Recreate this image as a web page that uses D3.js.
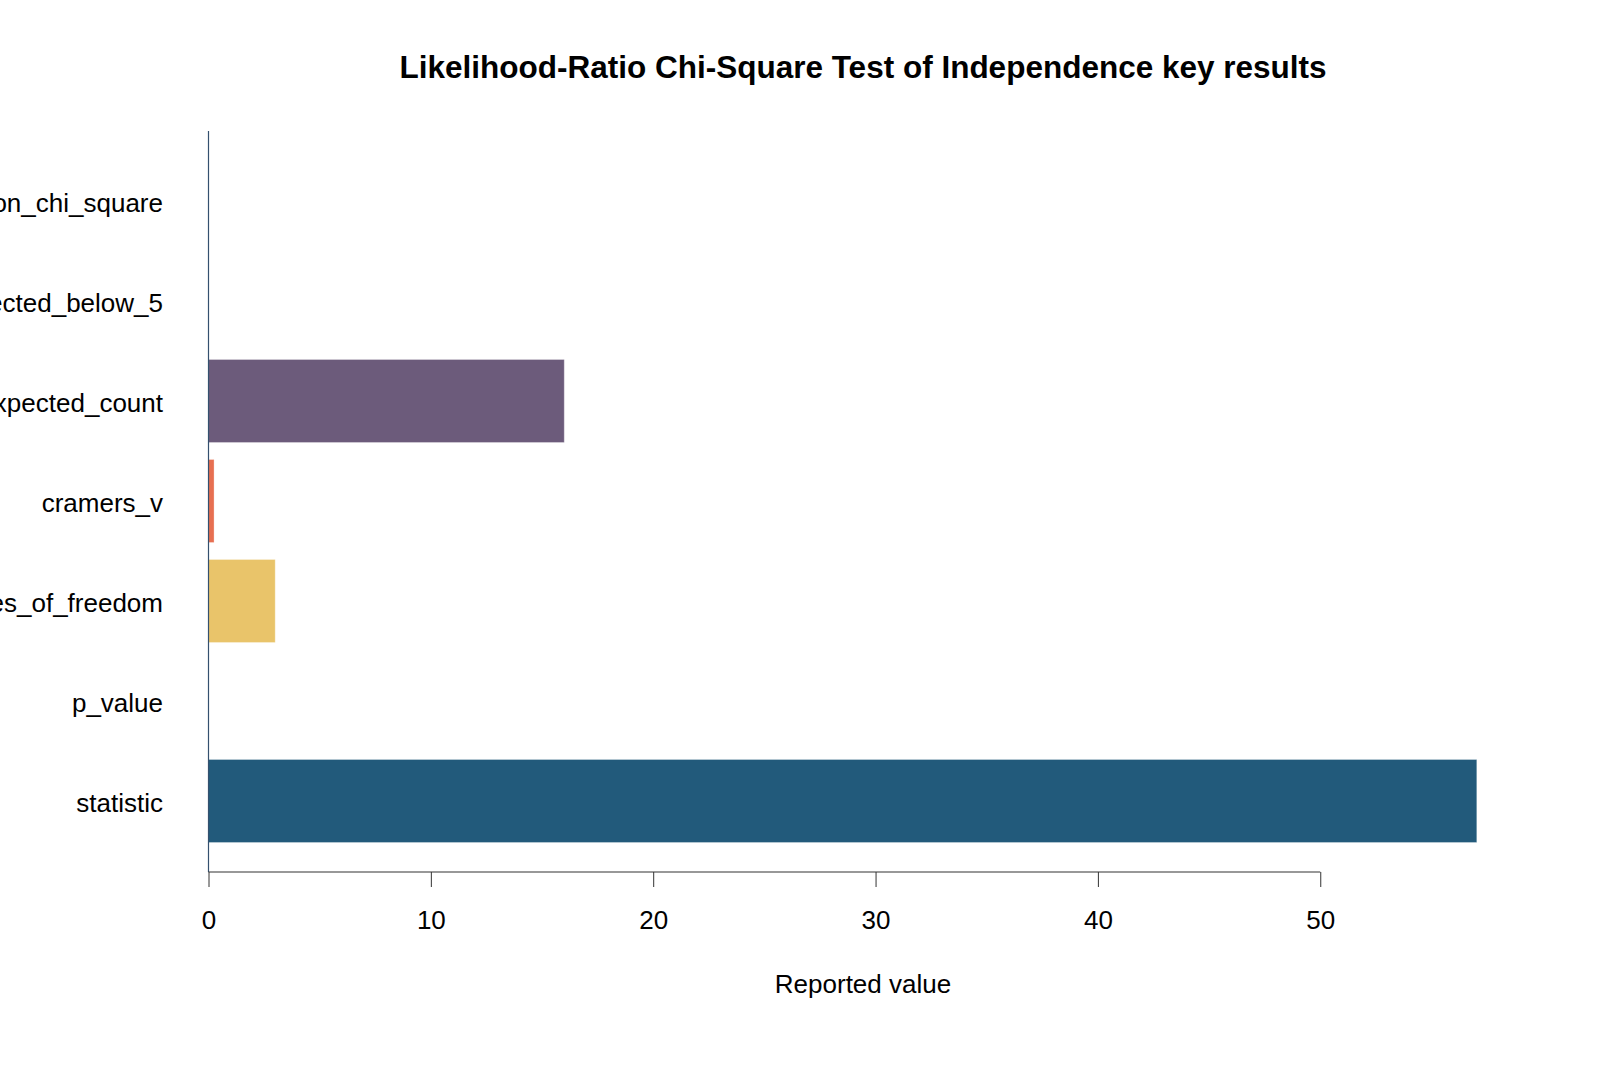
<!DOCTYPE html>
<html>
<head>
<meta charset="utf-8">
<script src="https://cdn.jsdelivr.net/npm/d3@7"></script>
<style>
  body { margin: 0; background: #fff; }
  svg text { font-family: "Liberation Sans", Arial, sans-serif; fill: #000; }
</style>
</head>
<body>
<svg id="chart" width="1600" height="1067"></svg>
<script>
// Chart data (bottom to top in the picture)
const metrics = ["statistic", "p_value", "degrees_of_freedom", "cramers_v",
  "min_expected_count", "cells_expected_below_5", "pearson_chi_square"];
const values = [57.04, 0.0000001, 3, 0.25, 16.0, 0, 0];
const barColors = ["#225a7b", "#2a9d8f", "#e9c46a", "#e76f51", "#6c5b7b", "#c06c84", "#355c7d"];
const xTicks = [0, 10, 20, 30, 40, 50];

const svg = d3.select("#chart");
const margin = { top: 131, left: 208.5, bottom: 872 };

// scales
const x = d3.scaleLinear().domain([0, 60]).range([margin.left, margin.left + 60 * 22.235]);
const y = d3.scaleBand()
  .domain(metrics.slice().reverse())
  .range([151, 851])
  .paddingInner(0.17)
  .paddingOuter(0.085);

// Title
svg.append("text")
  .attr("x", 863).attr("y", 78)
  .attr("text-anchor", "middle")
  .attr("font-size", "31.5px")
  .attr("font-weight", "bold")
  .text("Likelihood-Ratio Chi-Square Test of Independence key results");

// Bars
svg.append("g").selectAll("rect")
  .data(metrics)
  .join("rect")
  .attr("x", x(0))
  .attr("y", d => y(d))
  .attr("width", (d, i) => x(values[i]) - x(0))
  .attr("height", y.bandwidth())
  .attr("fill", (d, i) => barColors[i])
  .attr("stroke", "#fff")
  .attr("stroke-opacity", 0.3)
  .attr("stroke-width", 1);

// Category labels (left ones are cut by the page edge, as in the original)
svg.append("g").selectAll("text")
  .data(metrics)
  .join("text")
  .attr("x", 163)
  .attr("y", d => y(d) + y.bandwidth() / 2 + 11)
  .attr("text-anchor", "end")
  .attr("font-size", "26px")
  .text(d => d);

// y axis line
svg.append("line")
  .attr("x1", x(0)).attr("x2", x(0))
  .attr("y1", margin.top).attr("y2", margin.bottom)
  .attr("stroke", "#34506e")
  .attr("stroke-width", 1.2);

// x axis
const xAxis = svg.append("g")
  .attr("transform", "translate(0," + margin.bottom + ")")
  .call(d3.axisBottom(x).tickValues(xTicks).tickSize(15).tickPadding(24).tickFormat(d3.format("d")));
xAxis.select(".domain").remove();
xAxis.selectAll(".tick line").attr("stroke", "#333");
xAxis.selectAll(".tick text")
  .attr("font-size", "26px")
  .attr("font-family", "Liberation Sans, Arial, sans-serif")
  .attr("fill", "#000");
xAxis.append("line")
  .attr("x1", x(xTicks[0])).attr("x2", x(xTicks[xTicks.length - 1]))
  .attr("y1", 0).attr("y2", 0)
  .attr("stroke", "#333")
  .attr("stroke-width", 1.2);

// x axis title
svg.append("text")
  .attr("x", 863).attr("y", 993)
  .attr("text-anchor", "middle")
  .attr("font-size", "26px")
  .text("Reported value");
</script>
</body>
</html>
